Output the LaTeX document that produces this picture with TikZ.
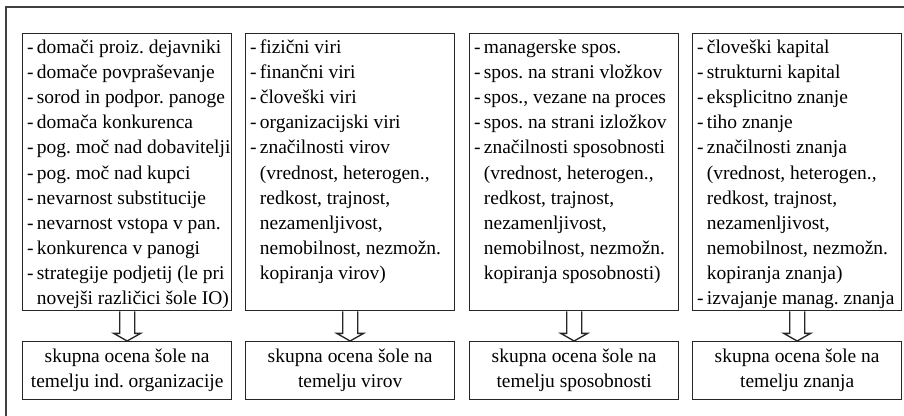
\documentclass[tikz,border=0pt]{standalone}
\usepackage{fontspec}
\setmainfont{Liberation Serif}
\usetikzlibrary{calc}

\frenchspacing
\newcommand{\indnt}{\phantom{-\,}}

\tikzset{
  listbox/.style={draw=black!85, line width=1pt, anchor=north west, inner xsep=3pt, inner ysep=1.5pt,
    minimum width=156.75pt, minimum height=207.75pt},
  sumbox/.style={draw=black!85, line width=1pt, anchor=north west, align=center,
    minimum width=156.75pt, minimum height=43.5pt, inner sep=0pt},
  hollow/.style={draw=black!85, line width=1pt, fill=white}
}

\begin{document}
\begin{tikzpicture}[x=0.75pt,y=0.75pt,font=\fontsize{14.6}{18.8}\selectfont]
\useasboundingbox (0,0) rectangle (904,415);

% draw outer frame
\draw[black!75,line width=1pt] (6,-10) -- (6,408) -- (915,408);

% draw industrial organization school
\begin{scope}[shift={(22,0)}]
\node[listbox] (ind) at (0,382) {\parbox[t][204pt][t]{150pt}{\begin{tabular}[t]{@{}l@{}}
-\,domači proiz. dejavniki\\
-\,domače povpraševanje\\
-\,sorod in podpor. panoge\\
-\,domača konkurenca\\
-\,pog. moč nad dobavitelji\\
-\,pog. moč nad kupci\\
-\,nevarnost substitucije\\
-\,nevarnost vstopa v pan.\\
-\,konkurenca v panogi\\
-\,strategije podjetij (le pri\\
\indnt novejši različici šole IO)
\end{tabular}}};
\node[sumbox] (indsum) at (0,74) {skupna ocena šole na\\temelju ind. organizacije};
\draw[hollow] ($(ind.south)+(-7.5,0)$) -- ($(ind.south)+(-7.5,-22)$) -- ($(ind.south)+(-13.5,-22)$)
  -- (indsum.north) -- ($(ind.south)+(13.5,-22)$) -- ($(ind.south)+(7.5,-22)$) -- ($(ind.south)+(7.5,0)$);
\end{scope}

% draw resource school
\begin{scope}[shift={(245,0)}]
\node[listbox] (vir) at (0,382) {\parbox[t][204pt][t]{150pt}{\begin{tabular}[t]{@{}l@{}}
-\,fizični viri\\
-\,finančni viri\\
-\,človeški viri\\
-\,organizacijski viri\\
-\,značilnosti virov\\
\indnt (vrednost, heterogen.,\\
\indnt redkost, trajnost,\\
\indnt nezamenljivost,\\
\indnt nemobilnost, nezmožn.\\
\indnt kopiranja virov)
\end{tabular}}};
\node[sumbox] (virsum) at (0,74) {skupna ocena šole na\\temelju virov};
\draw[hollow] ($(vir.south)+(-7.5,0)$) -- ($(vir.south)+(-7.5,-22)$) -- ($(vir.south)+(-13.5,-22)$)
  -- (virsum.north) -- ($(vir.south)+(13.5,-22)$) -- ($(vir.south)+(7.5,-22)$) -- ($(vir.south)+(7.5,0)$);
\end{scope}

% draw capability school
\begin{scope}[shift={(469,0)}]
\node[listbox] (spo) at (0,382) {\parbox[t][204pt][t]{150pt}{\begin{tabular}[t]{@{}l@{}}
-\,managerske spos.\\
-\,spos. na strani vložkov\\
-\,spos., vezane na proces\\
-\,spos. na strani izložkov\\
-\,značilnosti sposobnosti\\
\indnt (vrednost, heterogen.,\\
\indnt redkost, trajnost,\\
\indnt nezamenljivost,\\
\indnt nemobilnost, nezmožn.\\
\indnt kopiranja sposobnosti)
\end{tabular}}};
\node[sumbox] (sposum) at (0,74) {skupna ocena šole na\\temelju sposobnosti};
\draw[hollow] ($(spo.south)+(-7.5,0)$) -- ($(spo.south)+(-7.5,-22)$) -- ($(spo.south)+(-13.5,-22)$)
  -- (sposum.north) -- ($(spo.south)+(13.5,-22)$) -- ($(spo.south)+(7.5,-22)$) -- ($(spo.south)+(7.5,0)$);
\end{scope}

% draw knowledge school
\begin{scope}[shift={(692,0)}]
\node[listbox] (zna) at (0,382) {\parbox[t][204pt][t]{150pt}{\begin{tabular}[t]{@{}l@{}}
-\,človeški kapital\\
-\,strukturni kapital\\
-\,eksplicitno znanje\\
-\,tiho znanje\\
-\,značilnosti znanja\\
\indnt (vrednost, heterogen.,\\
\indnt redkost, trajnost,\\
\indnt nezamenljivost,\\
\indnt nemobilnost, nezmožn.\\
\indnt kopiranja znanja)\\
-\,izvajanje manag. znanja
\end{tabular}}};
\node[sumbox] (znasum) at (0,74) {skupna ocena šole na\\temelju znanja};
\draw[hollow] ($(zna.south)+(-7.5,0)$) -- ($(zna.south)+(-7.5,-22)$) -- ($(zna.south)+(-13.5,-22)$)
  -- (znasum.north) -- ($(zna.south)+(13.5,-22)$) -- ($(zna.south)+(7.5,-22)$) -- ($(zna.south)+(7.5,0)$);
\end{scope}

\end{tikzpicture}
\end{document}
